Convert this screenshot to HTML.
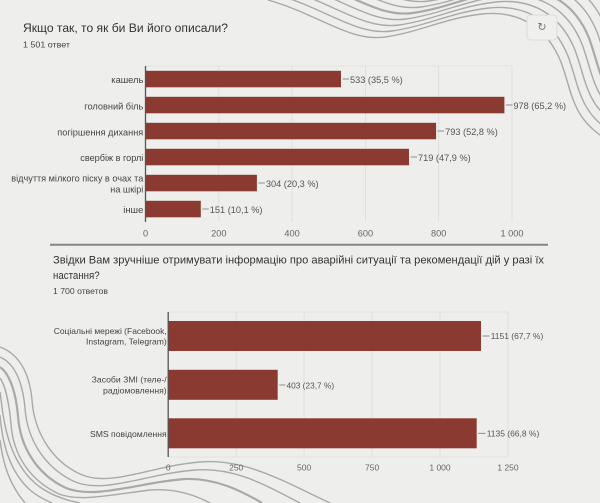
<!DOCTYPE html>
<html><head><meta charset="utf-8">
<style>
html,body{margin:0;padding:0;background:#eeeeec;width:600px;height:503px;overflow:hidden;}
svg{display:block;position:absolute;left:0;top:0;}
text{font-family:"Liberation Sans","Noto Sans CJK SC",sans-serif;}
</style></head>
<body>
<svg width="600" height="503" viewBox="0 0 600 503" xmlns="http://www.w3.org/2000/svg">
<rect width="600" height="503" fill="#eeeeec"/>
<!-- contour lines top-right -->
<g fill="none" stroke="#a9aaa7" stroke-width="1.4">
 <path id="t0" d="M 268 0 C 320 15, 350 42, 385 37 C 420 32, 445 18, 482 14 C 522 10, 548 30, 561 62 C 572 92, 572 115, 600 135"/>
 <use href="#t0" transform="translate(7,-6)"/>
 <use href="#t0" transform="translate(14,-12)"/>
 <use href="#t0" transform="translate(21,-18)"/>
 <use href="#t0" transform="translate(28,-24)" stroke-width="2.2"/>
 <use href="#t0" transform="translate(36,-30)"/>
 <use href="#t0" transform="translate(44,-36)"/>
 <use href="#t0" transform="translate(52,-42)"/>
</g>
<!-- contour lines bottom-left -->
<g fill="none" stroke="#a9aaa7" stroke-width="1.4">
 <path d="M 0 347 C 22 355, 30 378, 32 400 C 34 430, 50 460, 80 474 C 110 488, 150 466, 200 462 C 245 458, 285 482, 330 503"/>
 <path d="M 0 357 C 16 364, 23 385, 25 408 C 27 438, 43 466, 73 481 C 103 495, 145 474, 195 470 C 235 467, 265 485, 300 503"/>
 <path d="M 0 367 C 10 374, 16 393, 18 416 C 20 446, 36 474, 66 488 C 96 500, 140 482, 185 479 C 215 478, 240 490, 262 503" stroke-width="2.2"/>
 <path d="M 0 378 C 5 385, 9 402, 11 424 C 13 454, 29 480, 59 494 C 80 502, 110 495, 150 490 C 175 488, 195 495, 210 503"/>
 <path d="M 0 392 C 2 405, 4 440, 20 465 C 32 485, 50 497, 80 503"/>
 <path d="M 0 415 C 2 440, 8 470, 30 490 C 37 496, 45 500, 52 503"/>
 <path d="M 0 440 C 3 465, 10 485, 25 503"/>
</g>

<!-- refresh button -->
<rect x="527" y="15" width="30" height="25" rx="4" fill="#efefed" stroke="#dcdcda" stroke-width="1"/>
<text x="542" y="30.5" font-size="11" fill="#777" text-anchor="middle">↻</text>

<!-- Chart 1 -->
<text x="23" y="32" font-size="11.5" fill="#333" textLength="205" lengthAdjust="spacingAndGlyphs">Якщо так, то як би Ви його описали?</text>
<text x="23" y="47.7" font-size="8.5" fill="#444" textLength="47" lengthAdjust="spacingAndGlyphs">1 501 ответ</text>

<g stroke="#dcdcda" stroke-width="0.8">
 <line x1="218.8" y1="66" x2="218.8" y2="222"/>
 <line x1="292.1" y1="66" x2="292.1" y2="222"/>
 <line x1="365.4" y1="66" x2="365.4" y2="222"/>
 <line x1="438.7" y1="66" x2="438.7" y2="222"/>
 <line x1="512" y1="66" x2="512" y2="222"/>
 <line x1="145.5" y1="66" x2="512" y2="66"/>
</g>
<g fill="#8a3a31">
 <rect x="145.5" y="70.8" width="195.5" height="16.5"/>
 <rect x="145.5" y="96.8" width="358.9" height="16.5"/>
 <rect x="145.5" y="122.8" width="290.6" height="16.5"/>
 <rect x="145.5" y="148.8" width="263.5" height="16.5"/>
 <rect x="145.5" y="174.8" width="111.4" height="16.5"/>
 <rect x="145.5" y="200.8" width="55.3" height="16.5"/>
</g>
<line x1="145.5" y1="66" x2="145.5" y2="222" stroke="#555" stroke-width="1.3"/>
<g font-size="9.2" fill="#444" text-anchor="end">
 <text x="143.3" y="83" textLength="32" lengthAdjust="spacingAndGlyphs">кашель</text>
 <text x="143.3" y="109.5" textLength="59" lengthAdjust="spacingAndGlyphs">головний біль</text>
 <text x="143.3" y="135.5" textLength="86" lengthAdjust="spacingAndGlyphs">погіршення дихання</text>
 <text x="143.3" y="161" textLength="63" lengthAdjust="spacingAndGlyphs">свербіж в горлі</text>
 <text x="143.3" y="181.7" textLength="132" lengthAdjust="spacingAndGlyphs">відчуття мілкого піску в очах та</text>
 <text x="143.3" y="192.7" textLength="33" lengthAdjust="spacingAndGlyphs">на шкірі</text>
 <text x="143.3" y="213" textLength="20" lengthAdjust="spacingAndGlyphs">інше</text>
</g>
<g stroke="#777" stroke-width="0.8">
 <line x1="342.5" y1="79" x2="349" y2="79"/>
 <line x1="505.9" y1="105" x2="512.4" y2="105"/>
 <line x1="437.6" y1="131" x2="444.1" y2="131"/>
 <line x1="410.5" y1="157" x2="417" y2="157"/>
 <line x1="258.4" y1="183" x2="264.9" y2="183"/>
 <line x1="202.3" y1="209" x2="208.8" y2="209"/>
</g>
<g font-size="9.2" fill="#555">
 <text x="350" y="83" textLength="52.7" lengthAdjust="spacingAndGlyphs">533 (35,5 %)</text>
 <text x="513.4" y="109" textLength="52.7" lengthAdjust="spacingAndGlyphs">978 (65,2 %)</text>
 <text x="445.1" y="135" textLength="52.7" lengthAdjust="spacingAndGlyphs">793 (52,8 %)</text>
 <text x="418" y="161" textLength="52.7" lengthAdjust="spacingAndGlyphs">719 (47,9 %)</text>
 <text x="265.9" y="187" textLength="52.7" lengthAdjust="spacingAndGlyphs">304 (20,3 %)</text>
 <text x="209.8" y="213" textLength="52.7" lengthAdjust="spacingAndGlyphs">151 (10,1 %)</text>
</g>
<g font-size="9.2" fill="#666" text-anchor="middle">
 <text x="145.5" y="236.5">0</text>
 <text x="218.8" y="236.5">200</text>
 <text x="292.1" y="236.5">400</text>
 <text x="365.4" y="236.5">600</text>
 <text x="438.7" y="236.5">800</text>
 <text x="512" y="236.5">1 000</text>
</g>

<!-- separator -->
<line x1="50" y1="244.8" x2="548" y2="244.8" stroke="#858585" stroke-width="2"/>

<!-- Chart 2 -->
<text x="53" y="263.3" font-size="11.3" fill="#333" textLength="491" lengthAdjust="spacingAndGlyphs">Звідки Вам зручніше отримувати інформацію про аварійні ситуації та рекомендації дій у разі їх</text>
<text x="53" y="279" font-size="11.3" fill="#333" textLength="46.7" lengthAdjust="spacingAndGlyphs">настання?</text>
<text x="53" y="294" font-size="8.5" fill="#444" textLength="55" lengthAdjust="spacingAndGlyphs">1 700 ответов</text>

<g stroke="#dcdcda" stroke-width="0.8">
 <line x1="236.2" y1="312" x2="236.2" y2="457"/>
 <line x1="304.1" y1="312" x2="304.1" y2="457"/>
 <line x1="372.1" y1="312" x2="372.1" y2="457"/>
 <line x1="440" y1="312" x2="440" y2="457"/>
 <line x1="508" y1="312" x2="508" y2="457"/>
 <line x1="168.2" y1="312" x2="508" y2="312"/>
 <line x1="168.2" y1="457" x2="508" y2="457"/>
</g>
<g fill="#8a3a31">
 <rect x="168.2" y="321" width="312.8" height="30"/>
 <rect x="168.2" y="369.8" width="109.5" height="30"/>
 <rect x="168.2" y="418.3" width="308.5" height="30"/>
</g>
<line x1="168.2" y1="312" x2="168.2" y2="457" stroke="#555" stroke-width="1.3"/>
<g font-size="8.5" fill="#444" text-anchor="end">
 <text x="166.7" y="334" textLength="113" lengthAdjust="spacingAndGlyphs">Соціальні мережі (Facebook,</text>
 <text x="166.7" y="344.6" textLength="80.7" lengthAdjust="spacingAndGlyphs">Instagram, Telegram)</text>
 <text x="166.7" y="382.7" textLength="75" lengthAdjust="spacingAndGlyphs">Засоби ЗМІ (теле-/</text>
 <text x="166.7" y="393.4" textLength="63.7" lengthAdjust="spacingAndGlyphs">радіомовлення)</text>
 <text x="166.7" y="437" textLength="76.7" lengthAdjust="spacingAndGlyphs">SMS повідомлення</text>
</g>
<g stroke="#777" stroke-width="0.8">
 <line x1="482.5" y1="336" x2="489.5" y2="336"/>
 <line x1="279.2" y1="385" x2="285.5" y2="385"/>
 <line x1="478.2" y1="433.3" x2="485.5" y2="433.3"/>
</g>
<g font-size="8.5" fill="#555">
 <text x="490.7" y="339.2" textLength="52.6" lengthAdjust="spacingAndGlyphs">1151 (67,7 %)</text>
 <text x="286.5" y="388.3" textLength="47.6" lengthAdjust="spacingAndGlyphs">403 (23,7 %)</text>
 <text x="486.7" y="436.5" textLength="52.6" lengthAdjust="spacingAndGlyphs">1135 (66,8 %)</text>
</g>
<g font-size="8.5" fill="#666" text-anchor="middle">
 <text x="168.2" y="470.5">0</text>
 <text x="236.2" y="470.5">250</text>
 <text x="304.1" y="470.5">500</text>
 <text x="372.1" y="470.5">750</text>
 <text x="440" y="470.5">1 000</text>
 <text x="508" y="470.5">1 250</text>
</g>
</svg>
</body></html>
